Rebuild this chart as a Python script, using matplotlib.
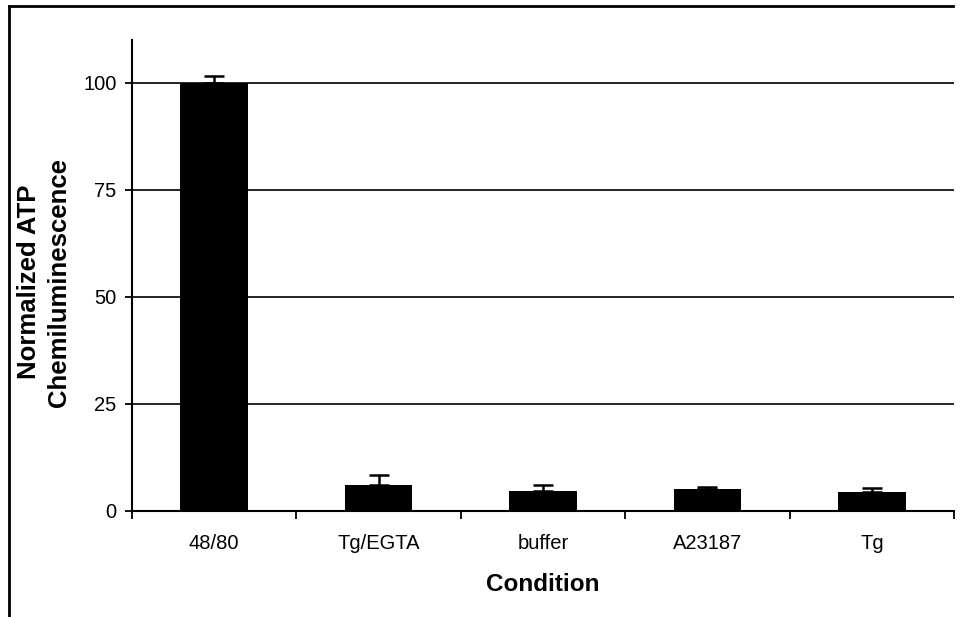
import matplotlib
matplotlib.use("Agg")
import matplotlib.pyplot as plt
from matplotlib.lines import Line2D
import numpy as np

categories = ["48/80", "Tg/EGTA", "buffer", "A23187", "Tg"]
values = [100.0, 6.1, 4.7, 5.0, 4.5]
errors_up = [1.6, 2.2, 1.3, 0.5, 0.9]
yticks = [0, 25, 50, 75, 100]

plt.rcParams['font.family'] = ['Liberation Sans', 'DejaVu Sans']

fig = plt.figure(figsize=(9.63, 6.17), dpi=100)
ax = fig.add_axes([0.137, 0.172, 0.8537, 0.763])

x = np.arange(len(categories))
ax.bar(x, values, width=0.41, color='black', zorder=3)
ax.errorbar(x, values, yerr=[[0] * len(values), errors_up], fmt='none',
            ecolor='black', elinewidth=1.8, capsize=7, capthick=1.8, zorder=4)

ax.set_xlim(-0.5, len(categories) - 0.5)
ax.set_ylim(0, 110)
ax.set_yticks(yticks)
ax.set_yticklabels([str(v) for v in yticks], fontsize=14.5)
ax.set_xticks(x)
ax.set_xticklabels(categories, fontsize=14.5)
ax.set_xticks(np.arange(-0.5, len(categories)), minor=True)
ax.tick_params(axis='x', which='major', length=0, pad=17)
ax.tick_params(axis='x', which='minor', length=6, width=1.3, direction='out')
ax.tick_params(axis='y', length=5, width=1.3, direction='out', pad=6)

ax.yaxis.grid(True, color='black', linewidth=1.2, zorder=0)
ax.set_axisbelow(True)
for s in ['top', 'right']:
    ax.spines[s].set_visible(False)
ax.spines['left'].set_linewidth(1.5)
ax.spines['bottom'].set_linewidth(1.5)

ax.set_xlabel("Condition", fontsize=17.5, fontweight='bold', labelpad=14)
fig.text(44 / 963, 1 - 282 / 617, "Normalized ATP\nChemiluminescence",
         rotation=90, ha='center', va='center', multialignment='center',
         fontsize=18.5, fontweight='bold', linespacing=1.35)

# outer frame (top and left only)
fig.add_artist(Line2D([0.0093, 0.99], [0.990, 0.990], transform=fig.transFigure,
                      color='black', linewidth=2))
fig.add_artist(Line2D([0.0093, 0.0093], [0.0, 0.990], transform=fig.transFigure,
                      color='black', linewidth=2))

fig.savefig("out.png", dpi=100)
